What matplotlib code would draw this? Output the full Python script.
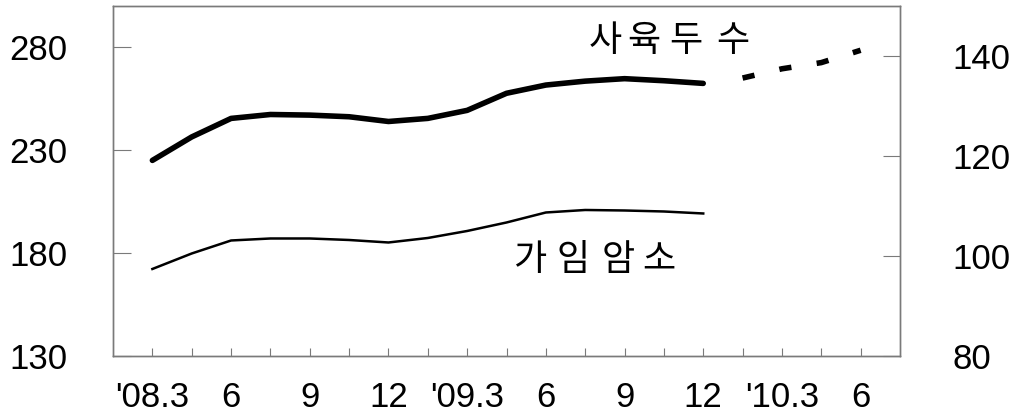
import matplotlib
matplotlib.use('Agg')
import matplotlib.pyplot as plt

# quarter index: 0 = '08.3, 1 = '08.6, ... ; half steps in between
x_herd = [0, 0.5, 1, 1.5, 2, 2.5, 3, 3.5, 4, 4.5, 5, 5.5, 6, 6.5, 7]
herd = [225, 236.4, 245.4, 247.3, 247, 246.2, 243.9, 245.4, 249.3,
        257.6, 261.6, 263.5, 264.7, 263.7, 262.4]
x_fcst = [7.5, 8, 8.5, 9]
herd_fcst = [265, 269.5, 272.5, 278.5]
x_cow = x_herd
cows = [97.4, 100.5, 103.1, 103.5, 103.5, 103.2, 102.7, 103.6, 105,
        106.7, 108.7, 109.2, 109.1, 108.9, 108.5]

xticklabels = ["'08.3", '6', '9', '12', "'09.3", '6', '9', '12', "'10.3", '6']
left_ticks = [130, 180, 230, 280]
right_ticks = [80, 100, 120, 140]

plt.rcParams['font.family'] = ['Liberation Sans', 'DejaVu Sans']
kr = ['Noto Sans CJK KR', 'DejaVu Sans']
gray = '#7a7a7a'

fig = plt.figure(figsize=(10.22, 4.19), dpi=100)
ax = fig.add_axes([0.1106, 0.1504, 0.77, 0.8353])
ax2 = ax.twinx()

ax.plot(x_herd, herd, color='black', lw=4, solid_capstyle='round')
ax.plot(x_fcst, herd_fcst, color='black', lw=4, dashes=(2.2, 4.6), dash_capstyle='butt')
ax2.plot(x_cow, cows, color='black', lw=1.8)

ax.set_xlim(-0.5, 9.5)
ax.set_ylim(130, 300)
ax2.set_ylim(80, 150)

ax.set_xticks(range(len(xticklabels)))
ax.set_xticklabels(xticklabels)
ax.set_xticks([i + 0.5 for i in range(len(xticklabels) - 1)], minor=True)
ax.tick_params(axis='x', which='both', direction='in', length=6, width=0.8,
               color=gray, pad=18, labelsize=25)
ax.set_yticks(left_ticks)
ax.tick_params(axis='y', direction='in', length=13, width=0.8, color=gray,
               pad=33, labelsize=25)
ax2.set_yticks(right_ticks)
ax2.tick_params(axis='y', direction='in', length=12, width=0.8, color=gray,
                pad=38, labelsize=25)

for a in (ax, ax2):
    for s in a.spines.values():
        s.set_color(gray)
        s.set_linewidth(1)

for ch, cx in zip('사육두수', [5.75, 6.25, 6.78, 7.38]):
    ax.text(cx, 283, ch, family=kr, fontsize=26, ha='center', va='center')
for ch, cx in zip('가임암소', [4.8, 5.35, 5.92, 6.44]):
    ax.text(cx, 176.5, ch, family=kr, fontsize=26, ha='center', va='center')

fig.savefig('out.png', dpi=100)
